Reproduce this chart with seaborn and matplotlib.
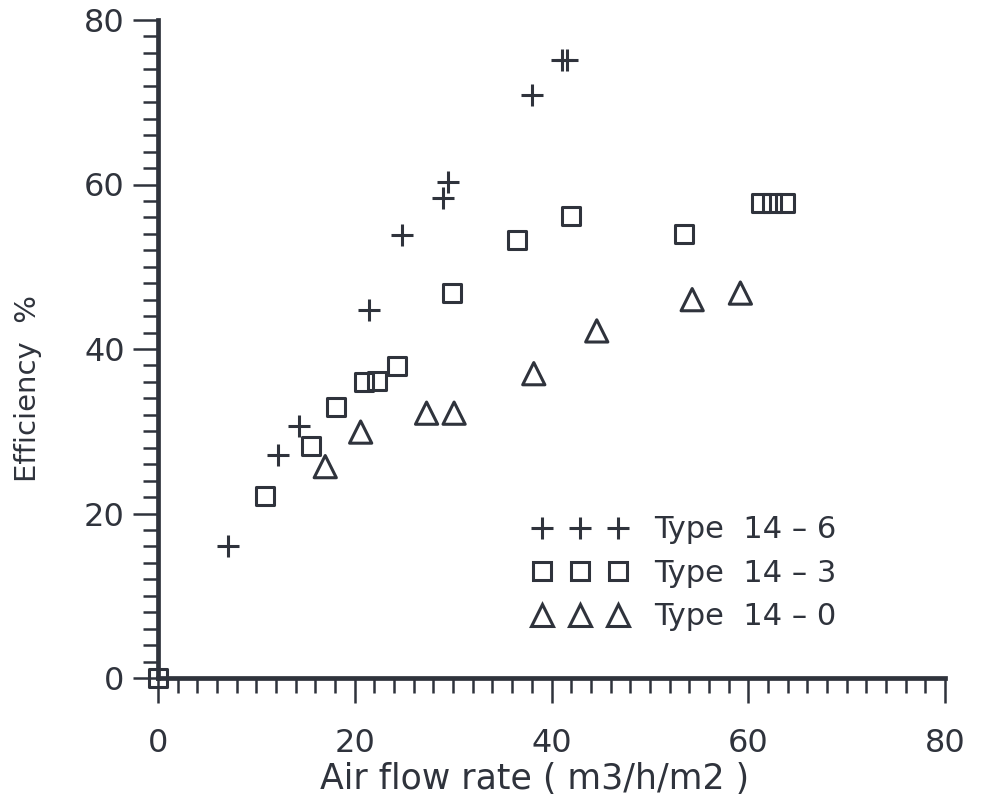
"""Air flow rate vs efficiency for three collector types (scanned figure remake)."""

import matplotlib.pyplot as plt
import pandas as pd
import seaborn as sns
from matplotlib.lines import Line2D
from matplotlib.ticker import MultipleLocator

# values
flow_14_6 = [7.1, 12.2, 14.3, 21.4, 24.8, 29.0, 29.5, 38.0, 41.1, 41.6]
eff_14_6 = [16.0, 27.1, 30.6, 44.8, 53.8, 58.4, 60.3, 70.9, 75.1, 75.1]

flow_14_3 = [0.0, 10.9, 15.6, 18.1, 20.9, 22.3, 24.3, 29.9, 36.5, 42.0, 53.5, 61.3, 62.4, 63.7]
eff_14_3 = [0.0, 22.1, 28.2, 33.0, 36.0, 36.1, 37.9, 46.8, 53.2, 56.2, 54.0, 57.8, 57.8, 57.8]

flow_14_0 = [17.0, 20.6, 27.3, 30.1, 38.2, 44.6, 54.3, 59.2]
eff_14_0 = [25.7, 29.9, 32.2, 32.2, 37.0, 42.2, 46.0, 46.8]

type_labels = ["Type  14 – 6", "Type  14 – 3", "Type  14 – 0"]

INK = "#2f333c"

sns.set_style("ticks")
plt.rcParams["font.family"] = ["DejaVu Sans"]

fig = plt.figure(figsize=(9.81, 8.02), dpi=100)
ax = fig.add_axes([158 / 981, 124 / 802, 787 / 981, 658 / 802])

df6 = pd.DataFrame({"flow": flow_14_6, "eff": eff_14_6})
df3 = pd.DataFrame({"flow": flow_14_3, "eff": eff_14_3})
df0 = pd.DataFrame({"flow": flow_14_0, "eff": eff_14_0})

sns.scatterplot(data=df6, x="flow", y="eff", marker="+", s=256, color=INK,
                linewidth=2.2, legend=False, ax=ax, clip_on=False, zorder=4)
sns.scatterplot(data=df3, x="flow", y="eff", marker="s", s=169, color=INK,
                facecolor="none", edgecolor=INK, linewidth=2.2, legend=False,
                ax=ax, clip_on=False, zorder=4)
sns.scatterplot(data=df0, x="flow", y="eff", marker="^", s=256, color=INK,
                facecolor="none", edgecolor=INK, linewidth=2.2, legend=False,
                ax=ax, clip_on=False, zorder=4)

ax.set_xlim(0, 80)
ax.set_ylim(0, 80)
ax.xaxis.set_major_locator(MultipleLocator(20))
ax.yaxis.set_major_locator(MultipleLocator(20))
ax.xaxis.set_minor_locator(MultipleLocator(2))
ax.yaxis.set_minor_locator(MultipleLocator(2))

sns.despine(ax=ax)
for side in ["left", "bottom"]:
    ax.spines[side].set_linewidth(3.4)
    ax.spines[side].set_color(INK)

ax.tick_params(which="major", length=18, width=1.8, color=INK,
               labelsize=23, labelcolor=INK)
ax.tick_params(which="minor", length=11, width=1.8, color=INK)
ax.tick_params(axis="x", which="major", pad=18)
ax.tick_params(axis="y", which="major", pad=6)

ax.set_xlabel("Air flow rate ( m3/h/m2 )", fontsize=25, color=INK)
ax.set_ylabel("Efficiency  %", fontsize=21, color=INK)
ax.xaxis.set_label_coords(0.478, -0.128)
ax.yaxis.set_label_coords(-0.147, 0.44)

handles = [
    Line2D([], [], ls="", marker="+", ms=16, mew=2.2, color=INK),
    Line2D([], [], ls="", marker="s", ms=13, mew=2.2, mfc="none", mec=INK),
    Line2D([], [], ls="", marker="^", ms=16, mew=2.2, mfc="none", mec=INK),
]
leg = ax.legend(handles, type_labels, numpoints=3, frameon=False,
                loc="upper left", bbox_to_anchor=(0.4765, 0.247),
                fontsize=22, handlelength=3.08, handletextpad=0.9,
                labelspacing=0.47, borderpad=0, borderaxespad=0)
for t in leg.get_texts():
    t.set_color(INK)

fig.savefig("out.png", dpi=100, facecolor="white")
plt.close(fig)
